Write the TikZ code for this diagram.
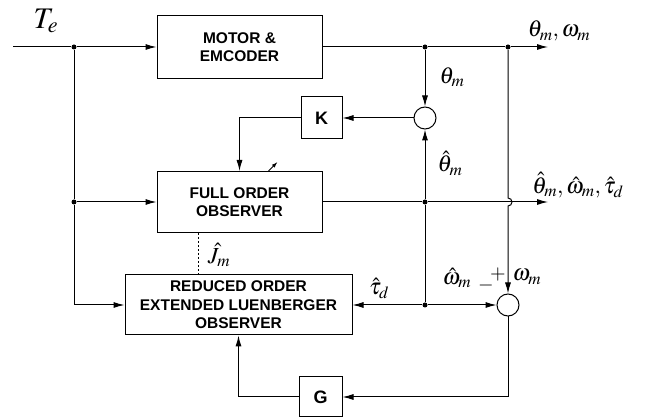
\documentclass[tikz,border=0pt]{standalone}
\usepackage{mathptmx}
\usepackage{fontspec}
\newfontfamily\blockfont{Liberation Sans}
\usetikzlibrary{calc,arrows.meta}

\begin{document}
\begin{tikzpicture}[x=1pt,y=1pt,line width=1pt,
        >={Latex[length=11pt,width=6pt]},
        blk/.style={draw,inner sep=0pt,align=center,font=\blockfont\bfseries\fontsize{15.5}{18.5}\selectfont},
        gain/.style={blk,font=\blockfont\bfseries\fontsize{18}{20}\selectfont},
        sum/.style={draw,circle,minimum size=22pt,inner sep=0pt},
        dot/.style={circle,fill,inner sep=0pt,minimum size=5pt},
        lbl/.style={inner sep=1pt,font=\fontsize{23}{25}\selectfont},
        sgn/.style={inner sep=0pt,scale=1.25,font=\fontsize{16}{18}\selectfont}]
            \useasboundingbox (0,0) rectangle (646,418);
            \node[blk,minimum width=165,minimum height=63] (motor) at (239.5,371) {MOTOR \&\\EMCODER};
            \node[blk,minimum width=165,minimum height=61] (full) at (239.5,216) {FULL ORDER\\OBSERVER};
            \node[blk,minimum width=227,minimum height=60] (red) at (238.5,113) {REDUCED ORDER\\EXTENDED LUENBERGER\\OBSERVER};
            \node[gain,minimum width=41,minimum height=42] (K) at (321.5,300) {K};
            \node[gain,minimum width=43,minimum height=40] (G) at (320.5,21) {G};
            \node[sum] (c1) at (425,300) {};
            \node[sum] (c2) at (508,113) {};
            \node[dot] (j1) at (74,371) {};
            \node[dot] (j2) at (74,216) {};
            \node[dot] (j4) at (425,371) {};
            \node[dot] (j5) at (508,371) {};
            \node[dot] (j6) at (425,216) {};
            \node[dot] (j7) at (425,113) {};
            \coordinate (in) at (13,371);
            \coordinate (j3) at (74,113);
            \coordinate (out1) at (548,371);
            \coordinate (out2) at (548,216);
            \coordinate (dsh) at (198,0);
            \node[lbl,scale=1.3] (te) at (46,397) {$T_e$};
            \node[lbl] (thw) at (559,387) {$\theta_m,\omega_m$};
            \node[lbl] (th) at (452,341) {$\theta_m$};
            \node[lbl] (thh) at (450,255) {$\hat\theta_m$};
            \node[lbl] (est) at (578,233) {$\hat\theta_m,\hat\omega_m,\hat\tau_d$};
            \node[lbl] (wm) at (527,141) {$\omega_m$};
            \node[lbl] (whm) at (457,140) {$\hat\omega_m$};
            \node[lbl] (tau) at (379,130) {$\hat\tau_d$};
            \node[lbl] (jm) at (219,163) {$\hat J_m$};
            \node[sgn] (plus) at (498,143) {$\mathbf{+}$};
            \node[sgn] (minus) at (486,132) {$\mathbf{-}$};
            \draw (in) -- (j1);
            \draw[->] (j1) -- (motor);
            \draw (j1) -- (j2) -- (j3);
            \draw[->] (j2) -- (full);
            \draw[->] (j3) -- (red);
            \draw (motor) -- (j4) -- (j5);
            \draw[->] (j5) -- (out1);
            \draw[->] (j4) -- (c1);
            \draw[->] (c1) -- (K);
            \draw[->] (K) -| (full);
            \draw (full) -- (j6);
            \draw[->] (j6) -- (out2);
            \draw[->] (j6) -- (c1);
            \draw (j6) -- (j7);
            \draw[->] (j7) -- (red);
            \draw[->] (j7) -- (c2);
            \draw[->] (j5) -- ++(0,-151) arc[start angle=90,end angle=-90,radius=4] -- (c2);
            \draw[->] (c2) |- (G);
            \draw[->] (G) -| (red);
            \draw[thin,dash pattern=on 2pt off 2pt] (full.south -| dsh) -- (red.north -| dsh);
            \draw[-{Latex[length=6pt,width=4pt]}] ([xshift=29pt]full.north) -- ++(9,9);
        \end{tikzpicture}
\end{document}
